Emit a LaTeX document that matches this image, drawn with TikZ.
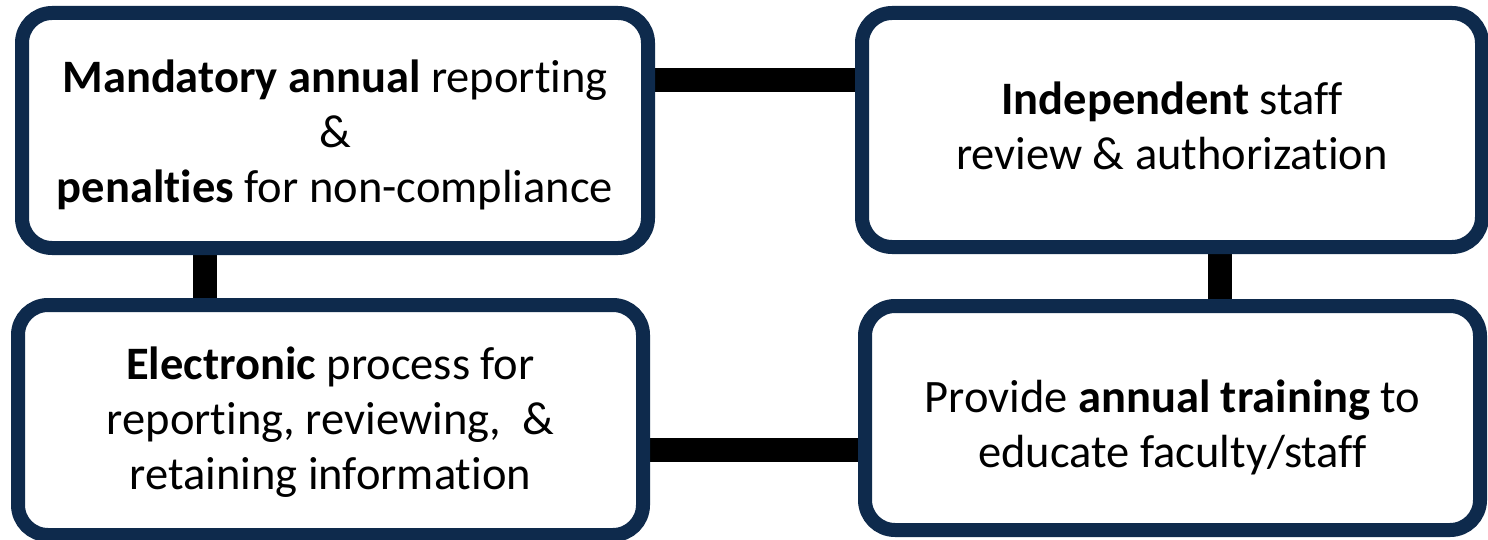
\documentclass[tikz,border=0pt]{standalone}
\usepackage{fontspec}
\setmainfont{Carlito}[Ligatures=NoCommon]
\definecolor{boxnavy}{HTML}{0E2A4C}
\pgfdeclarelayer{background}
\pgfsetlayers{background,main}
\begin{document}
\begin{tikzpicture}[x=1pt,y=1pt,
  card/.style={draw=boxnavy, line width=14pt, rounded corners=30pt, fill=white,
    inner sep=0pt, outer sep=0pt},
  cardtext/.style={align=center, inner sep=0pt, font=\fontsize{46.5}{55}\selectfont},
  link/.style={draw=black, line width=24pt}]
\useasboundingbox (0,0) rectangle (1488,-540);
\node[card, minimum width=626pt, minimum height=235pt] (b1) at (335,-130.5) {};
\node[card, minimum width=620pt, minimum height=234pt] (b2) at (1172,-130) {};
\node[card, minimum width=625pt, minimum height=230pt] (b3) at (330.5,-420) {};
\node[card, minimum width=615pt, minimum height=224pt] (b4) at (1172.5,-418) {};
\node[cardtext] (t1) at ([yshift=-4pt]b1.center)
  {\textbf{Mandatory annual} reporting\\ \&\\ \textbf{penalties} for non-compliance};
\node[cardtext] (t2) at ([yshift=4pt]b2.center)
  {\textbf{Independent} staff\\ review \& authorization};
\node[cardtext] (t3) at ([yshift=-2pt]b3.center)
  {\textbf{Electronic} process for\\ reporting, reviewing,~ \&\\ retaining information};
\node[cardtext] (t4) at ([yshift=-9pt]b4.center)
  {Provide \textbf{annual training} to\\ educate faculty/staff};
\begin{pgfonlayer}{background}
\fill[white] (0,0) rectangle (1488,-540);
\draw[link] ([yshift=50.5pt]b1.center) -- ([yshift=50.5pt]b1.center -| b2.center);
\draw[link] ([xshift=-130pt]b1.center) -- ([xshift=-130pt]b1.center |- b3.center);
\draw[link] ([xshift=48pt]b2.center) -- ([xshift=48pt]b2.center |- b4.center);
\draw[link] ([yshift=-30pt]b3.center) -- ([yshift=-30pt]b3.center -| b4.center);
\end{pgfonlayer}
\end{tikzpicture}
\end{document}
